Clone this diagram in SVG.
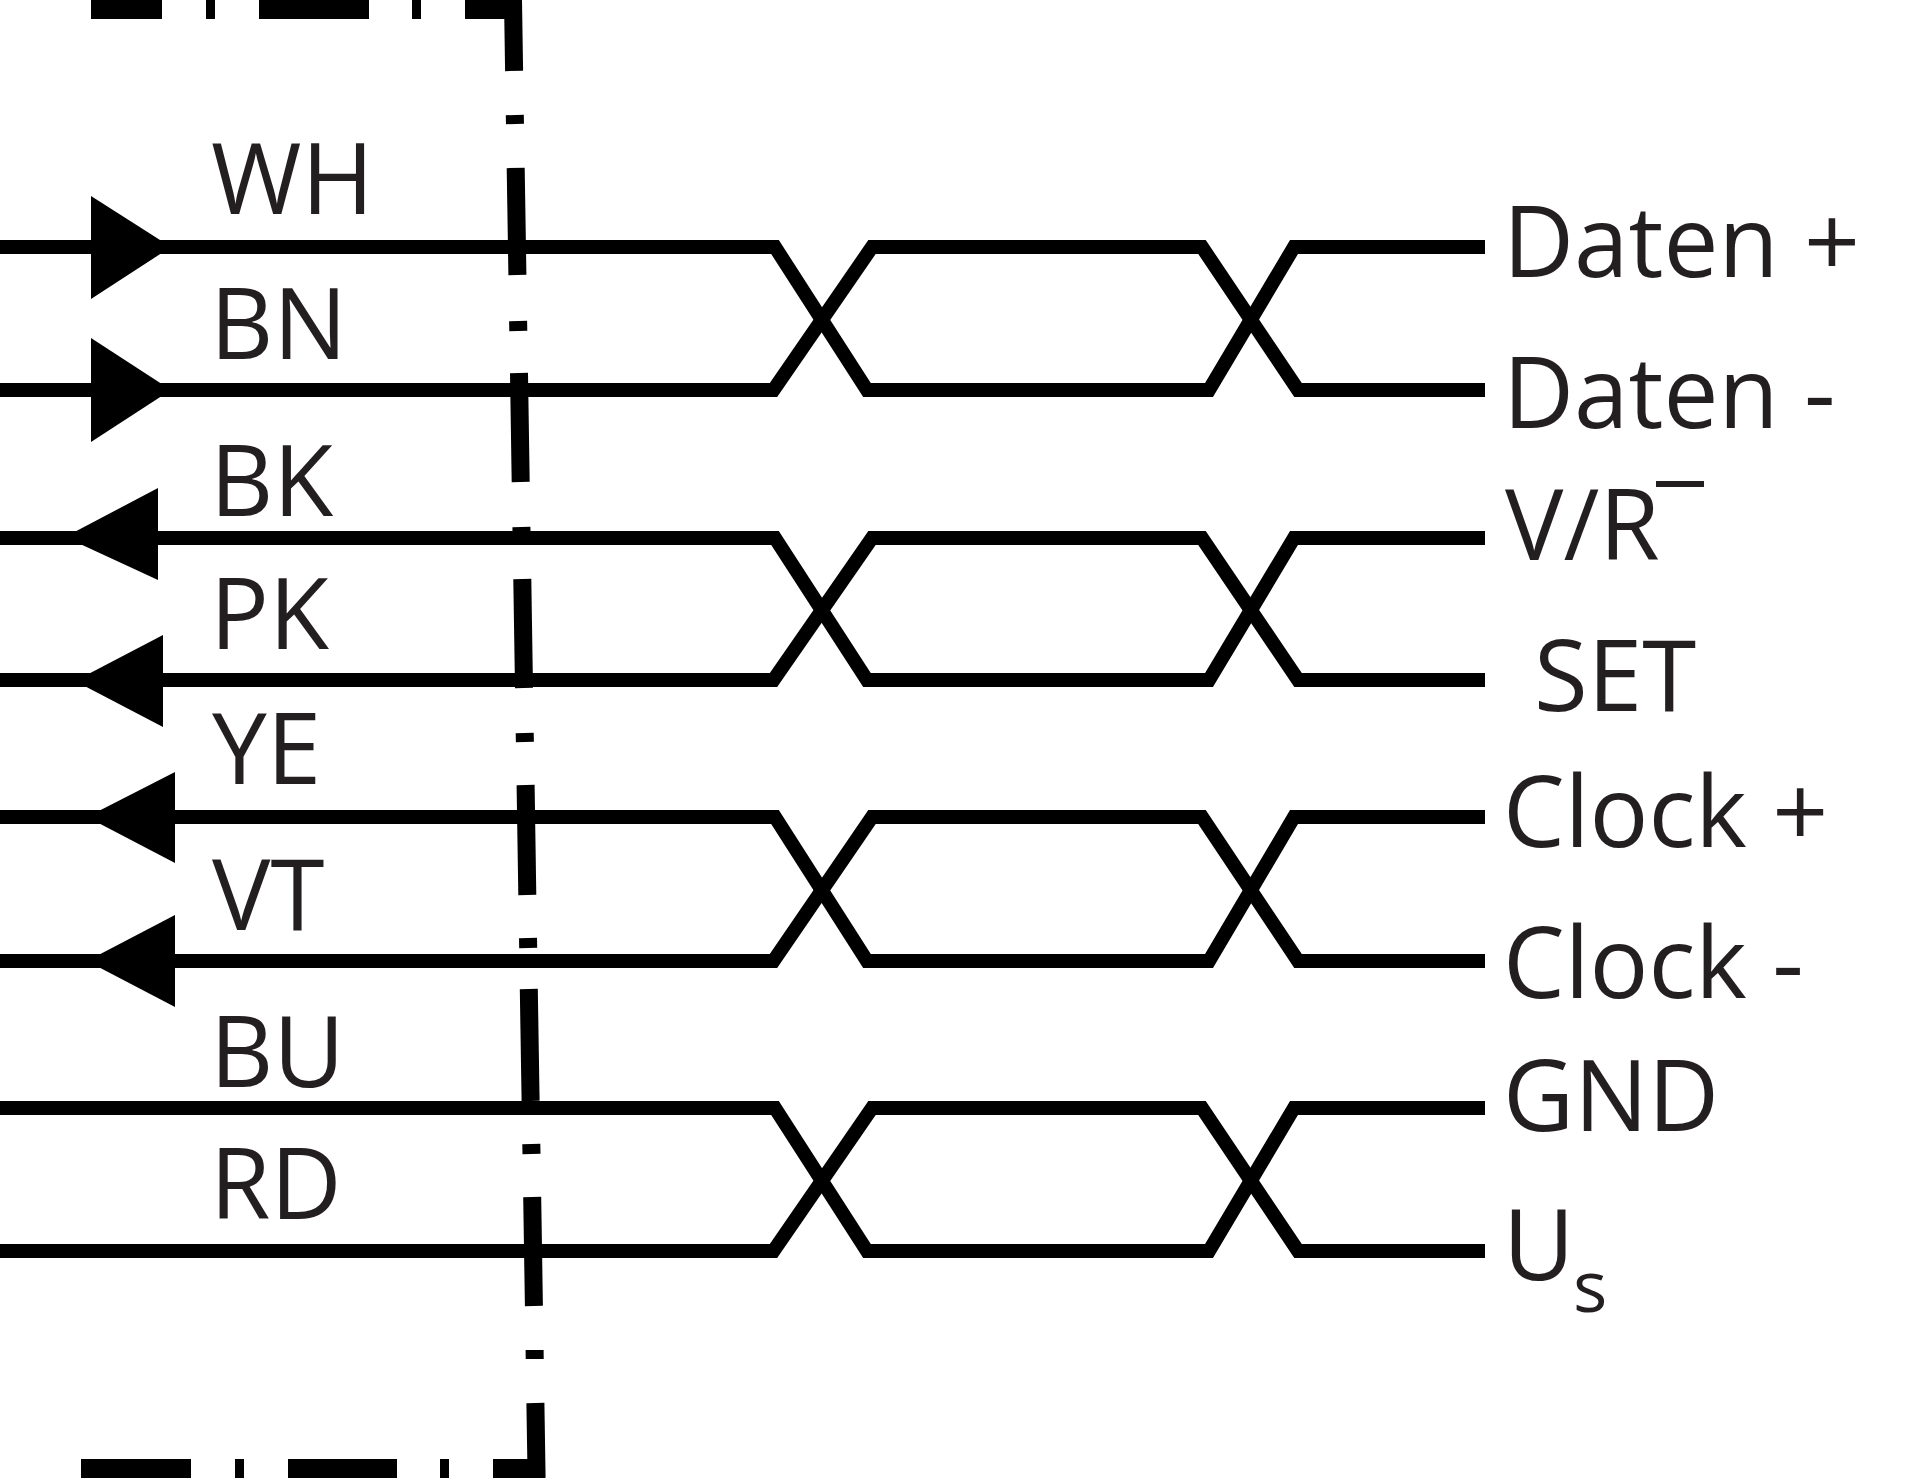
<svg xmlns="http://www.w3.org/2000/svg" width="1920" height="1478" viewBox="0 0 1920 1478">
<style>
.lbl{font-family:"Open Sans","Noto Sans","Liberation Sans",sans-serif;font-size:98px;fill:#231f20}
.sub{font-size:72px}
.wire{fill:none;stroke:#000;stroke-width:14;stroke-linejoin:miter;stroke-miterlimit:10}
.frame{stroke:#000;stroke-width:18;stroke-linecap:butt;fill:none}
.bar{stroke:#000;stroke-width:19;stroke-linecap:butt;fill:none}
.arr{fill:#000}
</style>
<rect width="1920" height="1478" fill="#fff"/>
<g id="frame">
<line class="bar" x1="91" y1="9.5" x2="162" y2="9.5"/>
<line class="bar" x1="206" y1="9.5" x2="215" y2="9.5"/>
<line class="bar" x1="259" y1="9.5" x2="369" y2="9.5"/>
<line class="bar" x1="412" y1="9.5" x2="421" y2="9.5"/>
<line class="bar" x1="465" y1="9.5" x2="522" y2="9.5"/>
<line class="bar" x1="81" y1="1468.5" x2="191" y2="1468.5"/>
<line class="bar" x1="235" y1="1468.5" x2="244" y2="1468.5"/>
<line class="bar" x1="288" y1="1468.5" x2="397" y2="1468.5"/>
<line class="bar" x1="440" y1="1468.5" x2="449" y2="1468.5"/>
<line class="bar" x1="493" y1="1468.5" x2="545" y2="1468.5"/>
<line class="frame" x1="513" y1="0" x2="514.1" y2="71"/>
<line class="frame" x1="514.8" y1="115" x2="515" y2="124"/>
<line class="frame" x1="515.7" y1="168" x2="517.4" y2="275"/>
<line class="frame" x1="518.1" y1="321" x2="518.3" y2="331"/>
<line class="frame" x1="519" y1="373" x2="520.7" y2="482"/>
<line class="frame" x1="521.4" y1="527" x2="521.6" y2="537"/>
<line class="frame" x1="522.3" y1="579" x2="524" y2="688"/>
<line class="frame" x1="524.7" y1="733" x2="524.9" y2="742"/>
<line class="frame" x1="525.6" y1="785" x2="527.3" y2="895"/>
<line class="frame" x1="528" y1="938" x2="528.2" y2="948"/>
<line class="frame" x1="528.8" y1="989" x2="530.6" y2="1101"/>
<line class="frame" x1="531.3" y1="1144" x2="531.5" y2="1154"/>
<line class="frame" x1="532.2" y1="1197" x2="533.9" y2="1306"/>
<line class="frame" x1="534.6" y1="1350" x2="534.7" y2="1359"/>
<line class="frame" x1="535.4" y1="1403" x2="536.6" y2="1478"/>
</g>
<g id="connectors">
<path class="wire" d="M0,247 H775 L867,390 H1209 L1294,247 H1485"/>
<path class="wire" d="M0,390 H773.5 L872,247 H1202 L1298,390 H1485"/>
<path class="wire" d="M0,538 H775 L867,680 H1209 L1294,538 H1485"/>
<path class="wire" d="M0,680 H773.5 L872,538 H1202 L1298,680 H1485"/>
<path class="wire" d="M0,817 H775 L867,961 H1209 L1294,817 H1485"/>
<path class="wire" d="M0,961 H773.5 L872,817 H1202 L1298,961 H1485"/>
<path class="wire" d="M0,1108 H775 L867,1251 H1209 L1294,1108 H1485"/>
<path class="wire" d="M0,1251 H773.5 L872,1108 H1202 L1298,1251 H1485"/>
<polygon class="arr" points="91,196 171,247 91,299"/>
<polygon class="arr" points="91,338 171,390 91,442"/>
<polygon class="arr" points="65,537 158,488 158,580"/>
<polygon class="arr" points="75,681 163,635 163,727"/>
<polygon class="arr" points="87,817 175,772 175,863"/>
<polygon class="arr" points="87,961 175,915 175,1007"/>
</g>
<g id="WH"><text class="lbl" x="211" y="214">WH</text></g>
<g id="BN"><text class="lbl" x="210" y="359">BN</text></g>
<g id="BK"><text class="lbl" x="210" y="516">BK</text></g>
<g id="PK"><text class="lbl" x="210" y="649">PK</text></g>
<g id="YE"><text class="lbl" x="212" y="784">YE</text></g>
<g id="VT"><text class="lbl" x="212" y="930">VT</text></g>
<g id="BU"><text class="lbl" x="210" y="1087">BU</text></g>
<g id="RD"><text class="lbl" x="210" y="1219">RD</text></g>
<g id="daten-plus"><text class="lbl" x="1503" y="277">Daten +</text></g>
<g id="daten-minus"><text class="lbl" x="1503" y="428">Daten -</text></g>
<g id="vr"><text class="lbl" x="1505" y="560">V/R</text><rect x="1656" y="481" width="48" height="6" fill="#231f20"/></g>
<g id="set"><text class="lbl" x="1534" y="711">SET</text></g>
<g id="clock-plus"><text class="lbl" x="1503" y="847">Clock +</text></g>
<g id="clock-minus"><text class="lbl" x="1503" y="998">Clock -</text></g>
<g id="gnd"><text class="lbl" x="1503" y="1131">GND</text></g>
<g id="us"><text class="lbl" x="1503" y="1280">U<tspan class="sub" x="1573" y="1312">s</tspan></text></g>
</svg>
